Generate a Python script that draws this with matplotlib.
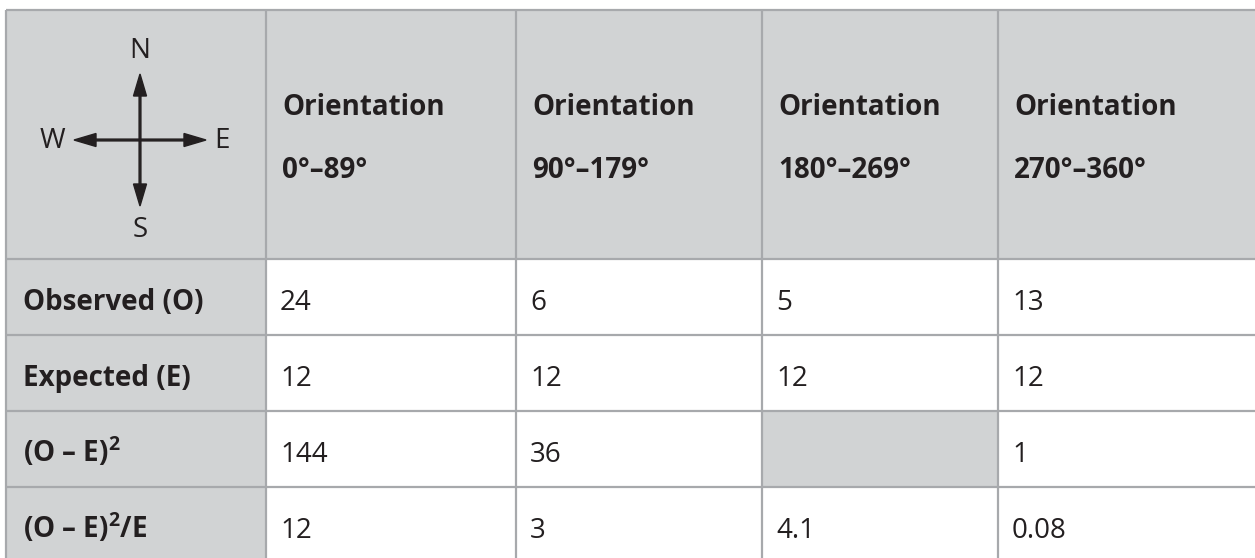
"""Chi-square table for shell orientation, redrawn as a matplotlib figure."""
import matplotlib
matplotlib.use("Agg")
import matplotlib.pyplot as plt
from matplotlib.patches import Rectangle, FancyArrow

FONT = "Open Sans"
# superscripts via mathtext, in the same face as the labels
plt.rcParams["mathtext.fontset"] = "custom"
plt.rcParams["mathtext.rm"] = FONT
plt.rcParams["mathtext.bf"] = FONT + ":bold"

# table content
header_top = ["Orientation", "Orientation", "Orientation", "Orientation"]
header_range = ["0°–89°", "90°–179°", "180°–269°", "270°–360°"]
row_labels = ["Observed (O)", "Expected (E)", r"(O – E)$^{\mathbf{2}}$",
              r"(O – E)$^{\mathbf{2}}$/E"]
observed = ["24", "6", "5", "13"]
expected = ["12", "12", "12", "12"]
diff_sq = ["144", "36", "", "1"]
chi_terms = ["12", "3", "4.1", "0.08"]
blank_cells = [(2, 2)]          # (row, col) left for the student to fill in

# layout in pixels (figure is 1255 x 558 at dpi 100)
W, H = 1255, 558
col_edges = [6, 266, 516, 762, 998, 1262]
row_edges = [10, 259, 335, 411, 487, 566]
GREY = "#d1d3d4"
LINE = "#a7a9ac"
INK = "#231f20"
FS = 20

fig = plt.figure(figsize=(W / 100, H / 100), dpi=100)
ax = fig.add_axes([0, 0, 1, 1])
ax.set_xlim(0, W)
ax.set_ylim(H, 0)
ax.axis("off")

body = [observed, expected, diff_sq, chi_terms]

# cell backgrounds
for r in range(len(row_edges) - 1):
    for c in range(len(col_edges) - 1):
        x0, x1 = col_edges[c], col_edges[c + 1]
        y0, y1 = row_edges[r], row_edges[r + 1]
        shaded = r == 0 or c == 0 or (r - 1, c - 1) in blank_cells
        ax.add_patch(Rectangle((x0, y0), x1 - x0, y1 - y0,
                               facecolor=GREY if shaded else "white",
                               edgecolor="none", zorder=0))

# grid lines
for y in row_edges:
    ax.plot([col_edges[0], col_edges[-1]], [y, y], color=LINE, lw=1.6,
            solid_capstyle="butt", zorder=2)
for x in col_edges:
    ax.plot([x, x], [row_edges[0], row_edges[-1]], color=LINE, lw=1.6,
            solid_capstyle="butt", zorder=2)

# header row: two lines per cell
for c in range(len(header_top)):
    x = col_edges[c + 1] + 16
    ax.text(x, 115, header_top[c], ha="left", va="baseline",
            fontsize=FS, fontweight="bold", family=FONT, color=INK)
    ax.text(x, 178, header_range[c], ha="left", va="baseline",
            fontsize=FS, fontweight="bold", family=FONT, color=INK)

# row labels and values
for r, label in enumerate(row_labels):
    base = row_edges[r + 1] + 51
    ax.text(col_edges[0] + 17, base, label, ha="left", va="baseline",
            fontsize=FS, fontweight="bold", family=FONT, color=INK)
    for c, val in enumerate(body[r]):
        ax.text(col_edges[c + 1] + 14, base, val, ha="left", va="baseline",
                fontsize=FS, family=FONT, color=INK)

# compass rose in the corner cell
cx, cy = 140, 140
arm = 66
for dx, dy in [(0, -1), (0, 1), (-1, 0), (1, 0)]:
    ax.add_patch(FancyArrow(cx, cy, dx * arm, dy * arm, width=1.8,
                            head_width=13, head_length=22,
                            length_includes_head=True, color=INK, zorder=3))
for txt, x, y in [("N", cx, 58), ("S", cx, 237), ("W", 52, 148), ("E", 222, 148)]:
    ax.text(x, y, txt, ha="center", va="baseline", fontsize=FS,
            family=FONT, color=INK)

fig.savefig("out.png", dpi=100)
